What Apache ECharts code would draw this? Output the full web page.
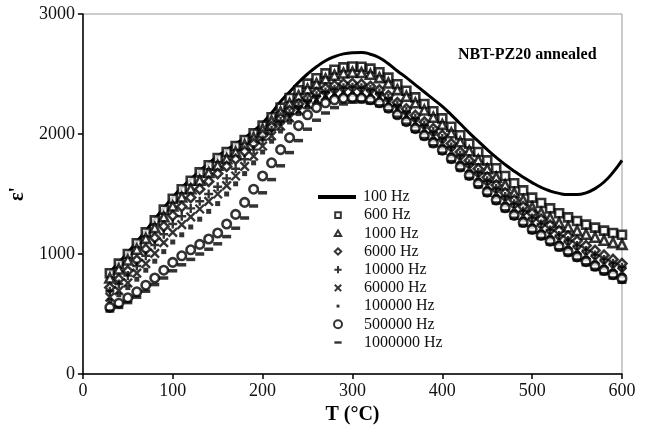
<!DOCTYPE html>
<html>
<head>
<meta charset="utf-8">
<script src="https://cdn.jsdelivr.net/npm/echarts@6/dist/echarts.min.js"></script>
<style>html,body{margin:0;padding:0;background:#fff}#c{width:653px;height:448px}</style>
</head>
<body>
<div id="c"></div>
<script>
const temps = [30,40,50,60,70,80,90,100,110,120,130,140,150,160,170,180,190,200,210,220,230,240,250,260,270,280,290,300,310,320,330,340,350,360,370,380,390,400,410,420,430,440,450,460,470,480,490,500,510,520,530,540,550,560,570,580,590,600];
const f100 = [850,930,1012,1102,1193,1292,1383,1473,1553,1623,1693,1755,1815,1866,1917,1968,2025,2092,2175,2270,2350,2430,2500,2560,2610,2645,2668,2678,2680,2665,2635,2585,2525,2470,2410,2350,2290,2230,2160,2085,2010,1940,1870,1805,1745,1690,1640,1595,1555,1525,1505,1495,1495,1510,1545,1600,1680,1780];
const f600 = [840,920,1000,1090,1180,1280,1370,1460,1540,1610,1680,1740,1800,1850,1900,1950,2005,2070,2140,2220,2300,2365,2420,2465,2505,2535,2555,2562,2560,2545,2515,2470,2415,2360,2305,2250,2190,2130,2060,1990,1920,1850,1780,1715,1650,1590,1530,1470,1425,1380,1340,1305,1275,1245,1220,1195,1175,1160];
const f1000 = [800,875,950,1040,1130,1220,1310,1400,1475,1545,1615,1680,1740,1795,1850,1910,1970,2040,2110,2185,2255,2320,2375,2420,2460,2490,2508,2515,2512,2498,2470,2425,2370,2315,2260,2200,2140,2080,2010,1935,1860,1785,1710,1640,1575,1510,1450,1390,1345,1300,1260,1225,1195,1165,1140,1115,1095,1080];
const f6000 = [720,790,860,950,1040,1135,1230,1320,1395,1470,1540,1605,1670,1730,1790,1855,1920,1990,2060,2130,2195,2250,2300,2345,2380,2405,2418,2422,2415,2398,2368,2320,2262,2210,2155,2100,2045,1990,1920,1850,1780,1710,1640,1575,1510,1450,1395,1340,1290,1240,1195,1150,1110,1070,1030,990,955,920];
const f10000 = [690,750,820,900,985,1075,1165,1250,1315,1380,1440,1500,1560,1630,1710,1790,1870,1950,2030,2105,2170,2230,2278,2318,2350,2372,2386,2390,2385,2370,2342,2298,2242,2188,2132,2076,2020,1962,1892,1822,1752,1680,1610,1545,1480,1418,1358,1300,1250,1200,1155,1112,1070,1030,992,955,922,890];
const f60000 = [640,695,760,840,920,1005,1095,1180,1245,1310,1375,1438,1500,1570,1650,1730,1815,1900,1985,2065,2135,2195,2245,2285,2315,2335,2347,2350,2346,2332,2305,2260,2205,2150,2095,2038,1980,1922,1852,1782,1712,1640,1570,1505,1440,1378,1318,1260,1210,1162,1116,1072,1030,990,952,916,882,850];
const f100000 = [610,660,720,790,865,940,1020,1100,1160,1225,1290,1355,1420,1500,1585,1670,1760,1850,1940,2025,2100,2170,2225,2265,2295,2315,2327,2330,2326,2312,2285,2240,2185,2128,2070,2010,1950,1890,1820,1750,1680,1610,1540,1475,1410,1348,1288,1230,1180,1132,1086,1042,1000,960,922,886,852,820];
const f500000 = [555,590,635,685,740,800,865,930,985,1035,1080,1125,1175,1250,1330,1430,1540,1650,1760,1870,1970,2070,2160,2220,2260,2285,2298,2302,2298,2285,2260,2215,2160,2103,2045,1985,1925,1865,1795,1725,1655,1585,1515,1450,1385,1322,1262,1205,1155,1107,1062,1018,976,936,898,862,828,795];
const f1000000 = [525,555,595,640,690,745,800,860,910,955,1000,1040,1085,1145,1215,1300,1400,1510,1620,1735,1845,1945,2040,2115,2175,2220,2250,2265,2268,2258,2235,2192,2140,2082,2022,1962,1902,1840,1770,1700,1630,1560,1490,1425,1360,1298,1238,1180,1130,1082,1036,992,950,910,872,836,800,765];
const seriesNames = ['100 Hz','600 Hz','1000 Hz','6000 Hz','10000 Hz','60000 Hz','100000 Hz','500000 Hz','1000000 Hz'];
const xTicks = [0,100,200,300,400,500,600];
const yTicks = [0,1000,2000,3000];

const pair = arr => temps.map((t,i)=>[t,arr[i]]);
const serif = 'Liberation Serif';
const hollow = {color:'#fff', borderColor:'#000', borderWidth:2.6};
const strokeOnly = {color:'rgba(0,0,0,0)', borderColor:'#000', borderWidth:2.4};
const PLUS = 'path://M0,5L10,5M5,0L5,10';
const CROSS = 'path://M0,0L10,10M10,0L0,10';
const markerDefs = [
  {data:f600, symbol:'rect', size:8, style:hollow, icon:'path://M0,0M10,10M1.5,1.5L8.5,1.5L8.5,8.5L1.5,8.5Z'},
  {data:f1000, symbol:'triangle', size:9, style:hollow, icon:'path://M0,0M10,10M5,1.5L9,8.5L1,8.5Z'},
  {data:f6000, symbol:'diamond', size:9, style:hollow, icon:'path://M0,0M10,10M5,1L9,5L5,9L1,5Z'},
  {data:f10000, symbol:PLUS, size:9, style:strokeOnly, icon:'path://M0,0M10,10M0.5,5L9.5,5M5,0.5L5,9.5'},
  {data:f60000, symbol:CROSS, size:8.5, style:strokeOnly, icon:'path://M0,0M10,10M1,1L9,9M9,1L1,9'},
  {data:f100000, symbol:'rect', size:5, style:{color:'#000'}, icon:'path://M0,0M10,10M3.2,3.2L6.8,3.2L6.8,6.8L3.2,6.8Z'},
  {data:f500000, symbol:'circle', size:8.5, style:hollow, icon:'circle'},
  {data:f1000000, symbol:'rect', size:[9,3.5], style:{color:'#000'}, icon:'path://M0,0M10,10M0.5,3.5L9.5,3.5L9.5,6.5L0.5,6.5Z'}
];
const series = [{
  name: seriesNames[0], type:'line', data: pair(f100), symbol:'none', smooth:true,
  lineStyle:{color:'#000', width:3}, itemStyle:{color:'#000'}, z:1
}];
markerDefs.forEach((d,k)=>{
  series.push({name: seriesNames[k+1], type:'scatter', data: pair(d.data), symbol:d.symbol,
    symbolSize:d.size, itemStyle:d.style, z:2});
});

const chart = echarts.init(document.getElementById('c'));
chart.setOption({
  animation:false,
  backgroundColor:'#fff',
  textStyle:{fontFamily:serif},
  title:{text:'NBT-PZ20 annealed', left:453, top:42,
    textStyle:{fontFamily:serif, fontSize:16, fontWeight:'bold', color:'#000'}},
  grid:{left:82, right:31, top:14, bottom:74, show:true, borderColor:'#999', borderWidth:1},
  legend:[
    {orient:'vertical', left:318, top:188, padding:0, itemWidth:38, itemHeight:4, itemGap:0,
      data:[{name:seriesNames[0], icon:'rect'}],
      textStyle:{fontFamily:serif, fontSize:16, color:'#111', lineHeight:18, padding:[0,0,0,2]}},
    {orient:'vertical', left:333, top:206, padding:0, itemWidth:8, itemHeight:8, itemGap:0,
      data: markerDefs.map((d,k)=>({name:seriesNames[k+1], icon:d.icon})),
      textStyle:{fontFamily:serif, fontSize:16, color:'#111', lineHeight:18.2, padding:[0,0,0,17]}}
  ],
  xAxis:{type:'value', min:xTicks[0], max:xTicks[xTicks.length-1], interval:100,
    name:'T (°C)', nameLocation:'middle', nameGap:29,
    nameTextStyle:{fontFamily:serif, fontSize:20, fontWeight:'bold', color:'#000'},
    axisLine:{lineStyle:{color:'#000', width:1.5}}, axisTick:{length:5, lineStyle:{color:'#000', width:1.5}},
    axisLabel:{fontFamily:serif, fontSize:18, color:'#111', margin:8, formatter:v=>String(v)}, splitLine:{show:false}},
  yAxis:{type:'value', min:yTicks[0], max:yTicks[yTicks.length-1], interval:1000,
    name:"ε'", nameLocation:'middle', nameGap:47, nameRotate:90,
    nameTextStyle:{fontFamily:serif, fontSize:20, fontWeight:'bold', color:'#000'},
    axisLine:{lineStyle:{color:'#000', width:1.5}}, axisTick:{length:5, lineStyle:{color:'#000', width:1.5}},
    axisLabel:{fontFamily:serif, fontSize:18, color:'#111', margin:8, formatter:v=>String(v)}, splitLine:{show:false}},
  series: series
});
</script>
</body>
</html>
